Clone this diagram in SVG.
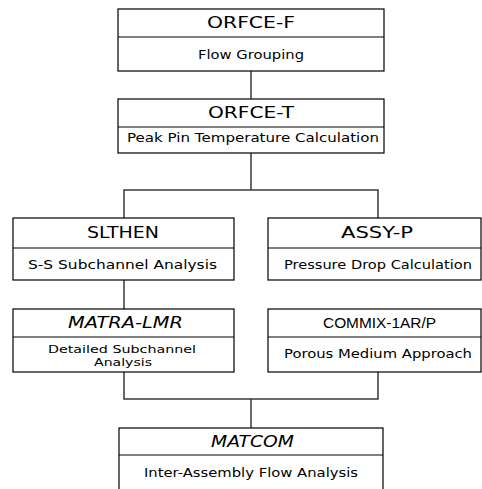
<svg xmlns="http://www.w3.org/2000/svg" width="482" height="489" viewBox="0 0 482 489">
<style>
.box{fill:#fff;stroke:#000;stroke-width:1.2}
.div{stroke:#000;stroke-width:1.2}
.con{fill:none;stroke:#3a3a3a;stroke-width:1.5}
.t{font-family:"DejaVu Sans",sans-serif;font-size:15px;fill:#000;text-anchor:middle}
.s{font-family:"DejaVu Sans",sans-serif;font-size:12.5px;fill:#000;text-anchor:middle}
.s2{font-size:11px}
.i{font-style:italic}
.a{font-family:"Liberation Sans",Arial,sans-serif}
</style>
<rect width="482" height="489" fill="#fff"/>
<g id="connectors">
<path class="con" d="M251 71V99"/>
<path class="con" d="M251 153V190M124 218V190H378V218"/>
<path class="con" d="M124 280V309"/>
<path class="con" d="M124 372V399H378V372M251 399V428"/>
</g>
<g id="orfce-f">
<rect class="box" x="118" y="9" width="266" height="62"/>
<line class="div" x1="118" y1="37" x2="384" y2="37"/>
<text class="t" x="251" y="28" textLength="88" lengthAdjust="spacingAndGlyphs">ORFCE-F</text>
<text class="s" x="251" y="59" textLength="106" lengthAdjust="spacingAndGlyphs">Flow Grouping</text>
</g>
<g id="orfce-t">
<rect class="box" x="118" y="99" width="266" height="54"/>
<line class="div" x1="118" y1="127" x2="384" y2="127"/>
<text class="t" x="251" y="118" textLength="86" lengthAdjust="spacingAndGlyphs">ORFCE-T</text>
<text class="s" x="253" y="142" textLength="252" lengthAdjust="spacingAndGlyphs">Peak Pin Temperature  Calculation</text>
</g>
<g id="slthen">
<rect class="box" x="13" y="218" width="221" height="62"/>
<line class="div" x1="13" y1="248" x2="234" y2="248"/>
<text class="t" x="123" y="238" textLength="72" lengthAdjust="spacingAndGlyphs">SLTHEN</text>
<text class="s" x="122.5" y="269" textLength="189" lengthAdjust="spacingAndGlyphs">S-S Subchannel Analysis</text>
</g>
<g id="assy-p">
<rect class="box" x="268" y="218" width="213" height="62"/>
<line class="div" x1="268" y1="248" x2="481" y2="248"/>
<text class="t" x="377" y="238" textLength="72" lengthAdjust="spacingAndGlyphs">ASSY-P</text>
<text class="s" x="378" y="269" textLength="188" lengthAdjust="spacingAndGlyphs">Pressure Drop Calculation</text>
</g>
<g id="matra-lmr">
<rect class="box" x="13" y="309" width="221" height="63"/>
<line class="div" x1="13" y1="337" x2="234" y2="337"/>
<text class="t i" x="125.5" y="328" textLength="115" lengthAdjust="spacingAndGlyphs">MATRA-LMR</text>
<text class="s s2" x="122" y="352.5" textLength="148" lengthAdjust="spacingAndGlyphs">Detailed Subchannel</text>
<text class="s s2" x="123" y="365.5" textLength="58" lengthAdjust="spacingAndGlyphs">Analysis</text>
</g>
<g id="commix">
<rect class="box" x="268" y="309" width="213" height="63"/>
<line class="div" x1="268" y1="337" x2="481" y2="337"/>
<text class="t a" x="379.5" y="328" textLength="113" lengthAdjust="spacingAndGlyphs">COMMIX-1AR/P</text>
<text class="s" x="378" y="358" textLength="188" lengthAdjust="spacingAndGlyphs">Porous Medium Approach</text>
</g>
<g id="matcom">
<rect class="box" x="119" y="428" width="264" height="70"/>
<line class="div" x1="119" y1="455" x2="383" y2="455"/>
<text class="t i" x="252.5" y="447" textLength="83" lengthAdjust="spacingAndGlyphs">MATCOM</text>
<text class="s" x="251" y="477" textLength="214" lengthAdjust="spacingAndGlyphs">Inter-Assembly Flow Analysis</text>
</g>
</svg>
